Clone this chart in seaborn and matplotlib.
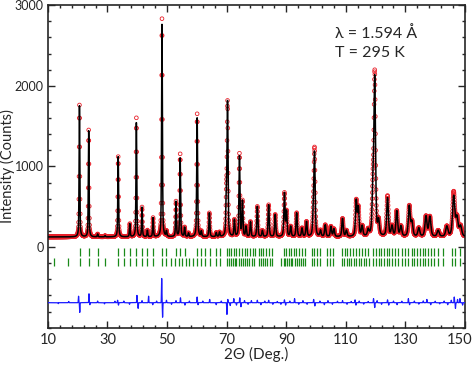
import numpy as np
import pandas as pd
import matplotlib
matplotlib.use("Agg")
import matplotlib.pyplot as plt
import matplotlib.transforms as mtransforms
from matplotlib.ticker import MultipleLocator, FixedLocator
import seaborn as sns

# scan settings (2theta, deg)
scan_start, scan_stop, scan_step = 10.0, 150.0, 0.05
background = 125.0

# peak table: position, calc top, obs top (counts), fwhm
peak_pos = [20.6, 23.7, 26.7, 29.2, 33.6, 37.5, 39.7, 41.6, 43.4, 45.3, 48.3, 49.8,
            53.0, 54.4, 55.9, 57.2, 60.1, 61.5, 64.2, 66.5, 67.6, 69.9, 70.3, 72.6,
            74.3, 75.3, 76.5, 78.0, 80.3, 82.0, 84.1, 86.3, 89.4, 90.1, 91.5, 93.5,
            95.3, 96.8, 99.1, 99.5, 101.5, 103.1, 105.0, 106.0, 108.9, 110.2, 113.5,
            114.2, 115.5, 117.5, 119.1, 119.7, 121.0, 124.0, 125.5, 127.1, 128.5,
            131.3, 132.2, 134.5, 136.9, 138.2, 141.0, 143.9, 146.2, 147.3, 148.5]
peak_calc = [1750, 1440, 160, 140, 1120, 285, 1540, 490, 205, 360, 2760, 190,
             560, 1100, 240, 170, 1600, 190, 420, 175, 180, 600, 1760, 330,
             1120, 560, 250, 310, 500, 200, 520, 400, 660, 430, 250, 420,
             230, 310, 380, 1130, 200, 270, 250, 220, 350, 200, 560,
             470, 250, 200, 680, 2050, 300, 600, 250, 440, 250,
             500, 300, 230, 375, 370, 200, 250, 620, 350, 250]
peak_obs = [1760, 1450, 160, 140, 1120, 285, 1600, 490, 205, 360, 2830, 190,
            560, 1150, 240, 170, 1650, 190, 420, 175, 180, 600, 1760, 330,
            1150, 560, 250, 310, 500, 200, 520, 400, 660, 430, 250, 420,
            230, 310, 380, 1180, 200, 270, 250, 220, 350, 200, 560,
            470, 250, 200, 680, 2110, 300, 625, 250, 440, 250,
            500, 300, 230, 375, 370, 200, 250, 670, 350, 250]
peak_fwhm = [0.28, 0.28, 0.28, 0.28, 0.30, 0.30, 0.30, 0.30, 0.31, 0.31, 0.32, 0.32,
             0.33, 0.33, 0.33, 0.34, 0.35, 0.35, 0.36, 0.36, 0.36, 0.38, 0.38, 0.38,
             0.39, 0.39, 0.40, 0.40, 0.41, 0.42, 0.43, 0.44, 0.45, 0.45, 0.46, 0.47,
             0.48, 0.48, 0.50, 0.50, 0.51, 0.52, 0.53, 0.53, 0.55, 0.56, 0.58,
             0.58, 0.59, 0.60, 0.62, 0.62, 0.63, 0.66, 0.67, 0.68, 0.69,
             0.72, 0.73, 0.75, 0.78, 0.79, 0.82, 0.85, 0.88, 0.89, 0.91]

# difference curve spikes (obs - calc), offset below the pattern
diff_offset = -690
diff_pos = [13.5, 17.0, 20.3, 20.7, 23.8, 24.1, 26.7, 29.0, 32.5, 33.4, 33.7, 35.5,
            37.4, 39.9, 40.3, 41.6, 43.8, 45.2, 46.5, 48.2, 48.5, 49.8, 51.5, 53.0,
            54.5, 56.0, 57.5, 60.1, 60.4, 62.0, 64.3, 66.5, 68.2, 70.1, 70.4, 71.2,
            72.4, 73.3, 74.4, 74.8, 76.0, 77.2, 78.3, 80.3, 81.5, 82.8, 84.1, 85.5,
            87.0, 88.2, 89.4, 89.8, 91.2, 92.8, 94.2, 95.6, 97.0, 99.2, 99.6, 101.3,
            102.8, 104.0, 105.5, 107.2, 108.9, 110.4, 111.8, 113.1, 113.4, 114.5,
            116.0, 117.5, 119.3, 119.7, 120.5, 122.0, 124.0, 124.4, 126.0, 127.2,
            128.8, 131.0, 131.4, 133.0, 134.5, 136.0, 137.2, 138.5, 140.0, 141.5,
            143.0, 144.2, 145.4, 146.4, 146.8, 147.5, 148.3, 149.2]
diff_amp = [-12, 15, 80, -120, 110, -25, 20, -15, 18, 30, -30, 20,
            -20, 90, -70, 25, 80, -25, 20, 300, -180, 30, -20, 25,
            60, -30, 20, 70, -25, 20, 40, -25, 20, -145, 40, -35,
            50, -30, 60, -50, 25, -20, 25, 30, -25, 20, 30, -20,
            15, -20, 35, -30, 20, 50, -20, 25, -20, 40, -40, 20,
            -25, 25, -20, 18, 25, -20, 15, 35, -30, 20,
            -18, 15, 50, -60, 25, -20, 35, -30, 20, -25,
            18, 50, -25, 20, -18, 22, 40, -25, 18, -15,
            20, -25, 30, 70, -70, 40, 50, -30]

# reflection markers: phase 1 (upper) and phase 2 (lower, extra low-angle lines)
refl_1 = [20.7, 23.8, 26.8, 33.6, 35.7, 37.6, 39.6, 41.5, 43.4, 45.3, 48.2, 49.7,
          53.1, 54.5, 56.0, 60.1, 61.5, 62.9, 64.3, 66.4, 67.7,
          70.2, 70.9, 71.6, 72.5, 73.3, 74.3, 75.2, 76.0, 76.9, 77.8, 78.7, 79.5,
          80.7, 81.5, 82.3, 83.2, 84.1, 85.2, 89.2, 90.0, 90.8, 91.7, 92.6, 93.4,
          94.3, 95.3, 96.3, 98.6, 99.4, 100.2, 101.3, 103.7, 104.6, 105.8,
          108.7, 109.6, 110.5, 111.4, 112.3, 113.3, 114.3, 115.3, 116.4, 117.4,
          119.2, 120.1, 121.0, 121.9, 122.8, 123.7, 124.6, 125.5, 126.5, 127.4,
          128.8, 130.0, 130.9, 132.1, 133.0, 133.9, 134.8, 135.8, 136.7, 137.6,
          138.5, 139.5, 141.0, 142.7, 145.5, 146.6, 148.3]
refl_2 = [11.9, 16.8, 20.7, 23.8, 26.8, 29.1, 33.6, 35.7, 37.6, 39.6, 41.5, 43.4,
          45.3, 48.2, 49.7, 51.2, 52.6, 53.9, 55.1, 56.3, 57.5, 58.6,
          60.1, 61.5, 62.9, 64.3, 66.4, 67.7,
          70.2, 70.8, 71.4, 72.0, 72.7, 73.3, 74.0, 74.7, 75.4, 76.1, 76.8, 77.6,
          78.4, 79.2, 80.7, 81.4, 82.1, 82.9, 83.7, 84.5, 85.2, 88.3, 89.1, 89.7,
          90.3, 90.9, 91.5, 92.1, 92.8, 93.5, 94.2, 94.9, 95.7, 96.4, 98.6, 99.4,
          100.2, 101.3, 103.7, 104.6, 105.8, 108.7, 109.5, 110.3, 111.1, 111.9,
          112.7, 113.5, 114.3, 115.1, 116.0, 116.9, 117.8, 119.2, 120.1, 121.0,
          121.9, 122.8, 123.7, 124.6, 125.5, 126.5, 127.4, 128.8, 130.0, 130.9,
          132.1, 133.0, 133.9, 134.8, 135.8, 136.7, 137.6, 138.5, 139.5, 141.0,
          142.7, 145.5, 146.6, 148.3]

x_ticks = [10, 30, 50, 70, 90, 110, 130, 150]
y_ticks = [0, 1000, 2000, 3000]


def pseudo_voigt(x, pos, fwhm, eta=0.5):
    g = np.exp(-4 * np.log(2) * ((x - pos) / fwhm) ** 2)
    l = 1.0 / (1.0 + 4 * ((x - pos) / fwhm) ** 2)
    return eta * l + (1 - eta) * g


def build_pattern() -> pd.DataFrame:
    tth = np.arange(scan_start, scan_stop + scan_step / 2, scan_step)
    calc = np.full_like(tth, background)
    obs = np.full_like(tth, background)
    for p, hc, ho, w in zip(peak_pos, peak_calc, peak_obs, peak_fwhm):
        shape = pseudo_voigt(tth, p, w)
        calc += (hc - background) * shape
        obs += (ho - background) * shape
    diff = np.full_like(tth, diff_offset, dtype=float)
    for p, a in zip(diff_pos, diff_amp):
        diff += a * np.exp(-((tth - p) / 0.1) ** 2)
    return pd.DataFrame({"tth": tth, "obs": obs, "calc": calc, "diff": diff})


def main():
    sns.set_style("ticks")
    plt.rcParams["font.family"] = ["Lato", "DejaVu Sans"]
    data = build_pattern()

    fig = plt.figure(figsize=(4.74, 3.69), dpi=100)
    ax = fig.add_axes([0.101, 0.112, 0.880, 0.874])

    sns.scatterplot(data=data, x="tth", y="obs", ax=ax, marker="o", s=7,
                    facecolor="none", edgecolor="#e8202a", linewidth=0.6,
                    legend=False, zorder=2)
    sns.lineplot(data=data, x="tth", y="calc", ax=ax, color="black",
                 linewidth=1.1, zorder=3)
    sns.lineplot(data=data, x="tth", y="diff", ax=ax, color="#1a1aff",
                 linewidth=0.9, zorder=3)
    ax.vlines(refl_1, -110, -15, color="#1a8a1a", linewidth=0.9)
    ax.vlines(refl_2, -230, -140, color="#1a8a1a", linewidth=0.9)

    ax.set_xlim(10, 150)
    ax.set_ylim(-1000, 3000)
    ax.xaxis.set_major_locator(FixedLocator(x_ticks))
    ax.xaxis.set_minor_locator(MultipleLocator(4, offset=2))
    ax.yaxis.set_major_locator(FixedLocator(y_ticks))
    ax.yaxis.set_minor_locator(MultipleLocator(200))
    ax.tick_params(which="both", direction="in", top=True, right=True,
                   width=1.0)
    ax.tick_params(axis="x", labelsize=10.5, pad=4)
    ax.tick_params(axis="y", labelsize=9, pad=3)
    ax.tick_params(which="major", length=5)
    ax.tick_params(which="minor", length=2.5)
    for s in ax.spines.values():
        s.set_linewidth(1.2)
    ax.set_xlabel("2\u0398 (Deg.)", fontsize=11, labelpad=0)
    ax.set_ylabel("Intensity (Counts)", fontsize=10.5)
    ax.yaxis.set_label_coords(-0.079, 0.5)

    # keep the last x label inside the figure edge
    fig.canvas.draw()
    last = ax.get_xticklabels()[-1]
    last.set_transform(last.get_transform() +
                       mtransforms.ScaledTranslation(-4 / 72, 0, fig.dpi_scale_trans))

    ax.text(0.688, 0.913, "\u03bb = 1.594 \u00c5", transform=ax.transAxes,
            fontsize=11.5, va="center")
    ax.text(0.688, 0.851, "T = 295 K", transform=ax.transAxes,
            fontsize=11.5, va="center")

    fig.savefig("out.png", dpi=100)


main()
